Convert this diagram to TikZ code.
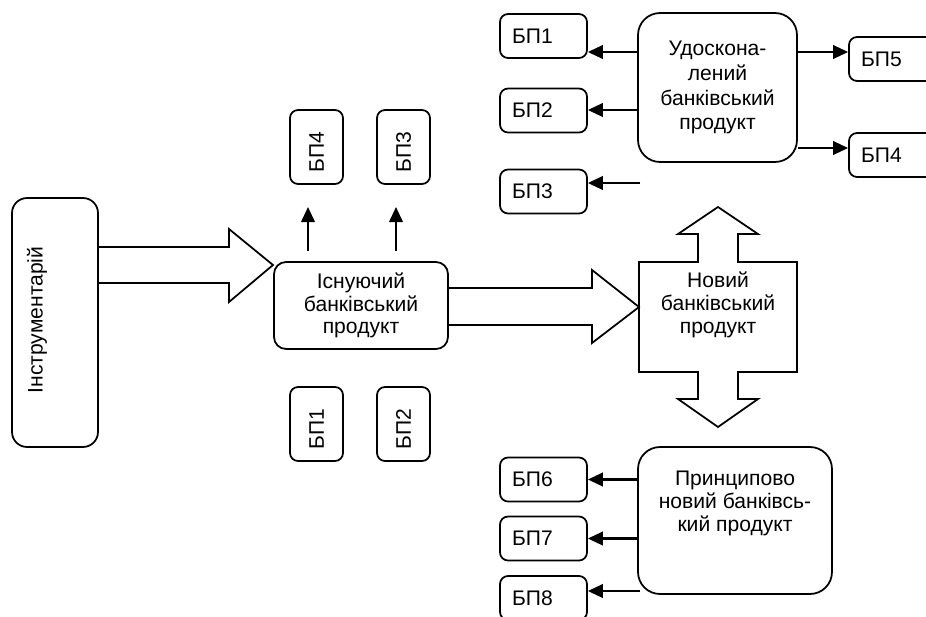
\documentclass[tikz,border=0pt]{standalone}
\usepackage{fontspec}
\setmainfont{Liberation Sans}
\usetikzlibrary{arrows.meta}
\begin{document}
\begin{tikzpicture}[x=0.02cm, y=-0.02cm, font=\fontsize{12}{13}\selectfont]

\tikzset{bigbox/.style={draw, line width=1pt, rounded corners=0.3cm, align=center, inner sep=0pt}}
\tikzset{bpbox/.style={draw, line width=1pt, rounded corners=0.16cm, minimum width=1.74cm, minimum height=0.88cm, inner xsep=0.24cm, text width=1.26cm, align=left}}
\tikzset{bpvert/.style={bpbox, rotate=90, minimum width=1.48cm, minimum height=1.06cm, text width=1cm}}
\tikzset{hollow/.style={line width=1pt, line join=miter}}
\tikzset{conn/.style={line width=1.3pt, -{Triangle[length=0.3cm, width=0.27cm]}}}

\clip (0,0) rectangle (926,616);

% toolkit and existing product
\node[bigbox, rotate=90, minimum width=4.98cm, minimum height=1.72cm] (tool) at (55,322.5) {};
\node[rotate=90] (tooltxt) at (37,320) {Інструментарій};
\node[bigbox, rounded corners=0.24cm, minimum width=3.48cm, minimum height=1.74cm] (exist) at (361,305.5) {Існуючий\\банківський\\продукт};

% products around the existing one
\node[bpvert] (eb4) at (316.5,147) {БП4};
\node[bpvert] (eb3) at (403.5,147) {БП3};
\node[bpvert] (eb1) at (316.5,424) {БП1};
\node[bpvert] (eb2) at (403.5,424) {БП2};

% improved product
\node[bigbox, rounded corners=0.44cm, minimum width=3.18cm, minimum height=2.98cm, font=\fontsize{12}{14.2}\selectfont] (impr) at (717.5,87.5) {Удоскона-\\лений\\банківський\\продукт};
\node[bpbox] (ib1) at (543.5,36) {БП1};
\node[bpbox] (ib2) at (543.5,110.5) {БП2};
\node[bpbox] (ib3) at (543.5,191.5) {БП3};
\node[bpbox] (ib5) at (892.5,59) {БП5};
\node[bpbox] (ib4) at (892.5,155) {БП4};

% new product
\draw[hollow] (639,262) -- (698,262) -- (698,234) -- (678,234) -- (718,207) -- (758,234) -- (738,234) -- (738,262)
  -- (797,262) -- (797,372) -- (738,372) -- (738,399) -- (758,399) -- (718,427) -- (678,399) -- (698,399)
  -- (698,372) -- (639,372) -- cycle;
\node[align=center] (newtxt) at (718,305) {Новий\\банківський\\продукт};

% principally new product
\node[bigbox, rounded corners=0.44cm, minimum width=3.88cm, minimum height=2.94cm] (princ) at (735,520.5) {};
\node[anchor=north, align=center] (princtxt) at (735,465) {Принципово\\новий банківсь-\\кий продукт};
\node[bpbox] (pb6) at (543.5,479.5) {БП6};
\node[bpbox] (pb7) at (543.5,538.5) {БП7};
\node[bpbox] (pb8) at (543.5,598) {БП8};

% big hollow arrows
\draw[hollow] (98,247) -- (229,247) -- (229,229) -- (273,265) -- (229,302) -- (229,283) -- (98,283);
\draw[hollow] (448,288) -- (592,288) -- (592,270) -- (639,307) -- (592,343) -- (592,325) -- (448,325);

% interactions
\coordinate (up1) at (308,251);
\coordinate (up2) at (396,251);
\draw[conn] (up1) -- ++(0,-44);
\draw[conn] (up2) -- ++(0,-44);

\draw[conn] (impr.west |- 0,52) -- (ib1.east |- 0,52);
\draw[conn] (impr.west |- 0,110) -- (ib2.east |- 0,110);
\coordinate (ib3src) at (640,183);
\draw[conn] (ib3src) -- (ib3.east |- ib3src);
\draw[conn] (impr.east |- 0,52) -- (ib5.west |- 0,52);
\draw[conn] (impr.east |- 0,148) -- (ib4.west |- 0,148);

\draw[conn] (princ.west |- pb6.east) -- (pb6.east);
\draw[conn] (princ.west |- pb7.east) -- (pb7.east);
\coordinate (pb8src) at (640,591);
\draw[conn] (pb8src) -- (pb8.east |- pb8src);

\end{tikzpicture}
\end{document}
